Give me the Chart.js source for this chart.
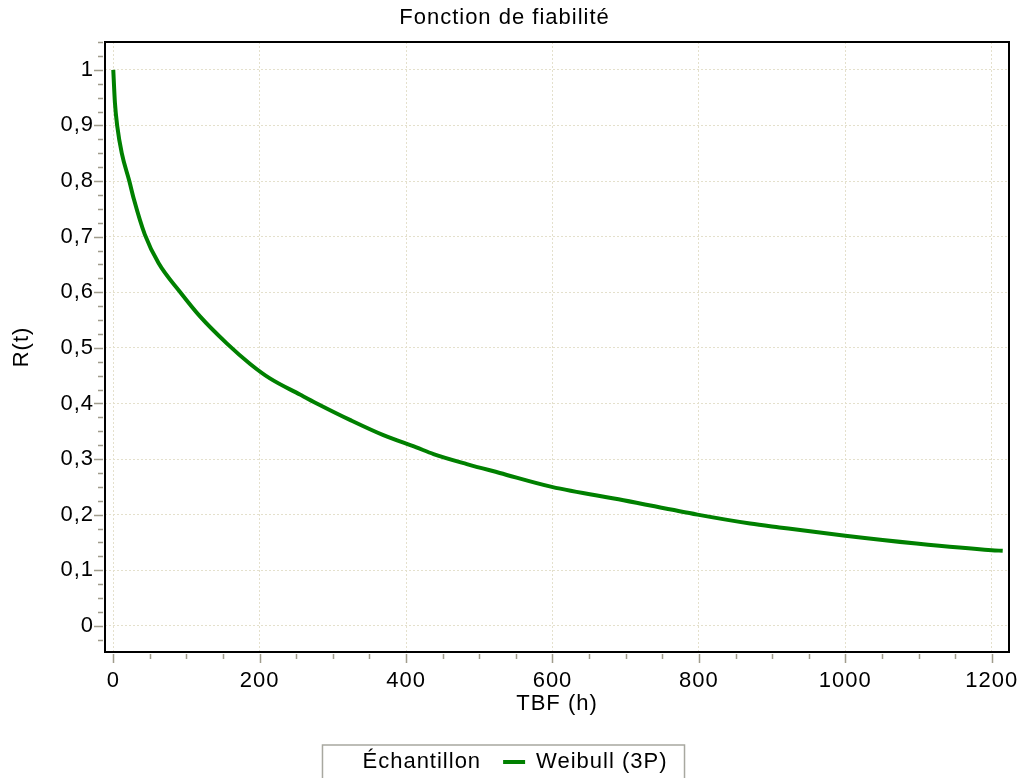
<!DOCTYPE html>
<html>
<head>
<meta charset="utf-8">
<script src="https://cdn.jsdelivr.net/npm/chart.js@4/dist/chart.umd.min.js"></script>
<style>
    html, body { margin: 0; padding: 0; background: #fff; }
    #wrap { width: 1022px; height: 778px; }
</style>
</head>
<body>
<div id="wrap"><canvas id="reliabilityChart" width="1022" height="778"></canvas></div>
<script>
        // TBF (h) and R(t)
        const tbfHours = [0, 2.3, 5.5, 11.6, 21.9, 28, 43, 62, 91.5, 118.8, 155, 187, 214, 255, 278, 324, 369, 414, 437.5, 483, 528, 599, 697, 798, 870, 910, 1000, 1097, 1200, 1215];
        const reliability = [1.0, 0.94, 0.898, 0.85, 0.80, 0.768, 0.704, 0.652, 0.60, 0.556, 0.508, 0.471, 0.445, 0.416, 0.400, 0.370, 0.343, 0.321, 0.309, 0.291, 0.275, 0.250, 0.226, 0.200, 0.184, 0.177, 0.162, 0.148, 0.136, 0.135];

        const xTicks = [0, 200, 400, 600, 800, 1000, 1200];
        const yTicks = [0, 0.1, 0.2, 0.3, 0.4, 0.5, 0.6, 0.7, 0.8, 0.9, 1];
        const yTickLabels = ['0', '0,1', '0,2', '0,3', '0,4', '0,5', '0,6', '0,7', '0,8', '0,9', '1'];
        const xMinorStep = 50;
        const yMinorStep = 0.025;

        const chartTitle = 'Fonction de fiabilité';
        const xTitle = 'TBF (h)';
        const yTitle = 'R(t)';
        const seriesNames = ['Échantillon', 'Weibull (3P)'];

        Chart.defaults.font.family = "'Liberation Sans', Arial, sans-serif";
        Chart.defaults.font.size = 22;
        Chart.defaults.color = '#000';

        // letter spacing is lost when the canvas is resized, so set it again each pass
        const spacingPlugin = {
            id: 'spacing',
            beforeUpdate(chart) { chart.ctx.letterSpacing = '1px'; },
            beforeLayout(chart) { chart.ctx.letterSpacing = '1px'; },
            beforeDraw(chart) { chart.ctx.letterSpacing = '1px'; }
        };

        const framePlugin = {
            id: 'frame',
            afterLayout(chart) {
                // nudge legend to where it sits in the original
                const lg = chart.legend;
                lg.left -= 6; lg.right -= 6;
                lg.top += 5; lg.bottom += 5;
            },
            afterDraw(chart) {
                const ctx = chart.ctx;
                const area = chart.chartArea;
                const xs = chart.scales.x;
                const ys = chart.scales.y;
                ctx.save();
                ctx.strokeStyle = '#a09c8c';
                ctx.lineWidth = 1.5;
                ctx.beginPath();
                for (let v = 0; v <= xs.max; v += xMinorStep) {
                    const px = Math.round(xs.getPixelForValue(v)) + 0.5;
                    const len = (v % 200 === 0) ? 9 : 5;
                    ctx.moveTo(px, area.bottom + 2);
                    ctx.lineTo(px, area.bottom + 2 + len);
                }
                for (let i = -1; i * yMinorStep <= ys.max; i++) {
                    const v = i * yMinorStep;
                    const py = Math.round(ys.getPixelForValue(v)) + 0.5;
                    const len = (i % 4 === 0) ? 9 : 5;
                    ctx.moveTo(area.left - 2, py);
                    ctx.lineTo(area.left - 2 - len, py);
                }
                ctx.stroke();

                ctx.strokeStyle = '#000';
                ctx.lineWidth = 2;
                ctx.strokeRect(area.left, area.top, area.right - area.left, area.bottom - area.top);

                // legend frame
                const boxes = chart.legend.legendHitBoxes;
                if (boxes && boxes.length) {
                    const first = boxes[0];
                    const last = boxes[boxes.length - 1];
                    const l = first.left - 7;
                    const r = last.left + last.width + 17;
                    ctx.strokeStyle = '#a8a8a0';
                    ctx.lineWidth = 1.5;
                    ctx.strokeRect(l, first.top - 6, r - l, 60);
                }
                ctx.restore();
            }
        };

        const ctx = document.getElementById('reliabilityChart').getContext('2d');
        const reliabilityChart = new Chart(ctx, {
            type: 'line',
            data: {
                datasets: [{
                    label: seriesNames[0],
                    data: [],
                    borderColor: 'transparent',
                    backgroundColor: 'transparent',
                    pointStyle: 'line'
                }, {
                    label: seriesNames[1],
                    data: tbfHours.map((t, i) => ({ x: t, y: reliability[i] })),
                    borderColor: '#008000',
                    backgroundColor: '#008000',
                    borderWidth: 4,
                    pointRadius: 0,
                    pointStyle: 'line',
                    cubicInterpolationMode: 'monotone',
                    fill: false
                }]
            },
            options: {
                responsive: false,
                animation: false,
                layout: { padding: { left: 0, right: 13, top: 0, bottom: 0 } },
                plugins: {
                    title: {
                        display: true,
                        text: chartTitle,
                        color: '#000',
                        font: { size: 22, weight: 'normal' },
                        padding: { top: 5, bottom: 10.6 }
                    },
                    legend: {
                        position: 'bottom',
                        labels: {
                            usePointStyle: true,
                            pointStyleWidth: 22,
                            padding: 22,
                            color: '#000',
                            font: { size: 22 }
                        }
                    },
                    tooltip: { enabled: false }
                },
                scales: {
                    x: {
                        type: 'linear',
                        min: -11.3,
                        max: 1223.6,
                        afterBuildTicks: (scale) => { scale.ticks = xTicks.map(v => ({ value: v })); },
                        afterFit: (scale) => { scale.height = 72; },
                        ticks: {
                            padding: 0,
                            maxRotation: 0,
                            callback: (value) => String(value)
                        },
                        grid: {
                            color: '#e4e0cc',
                            lineWidth: 1,
                            drawTicks: true,
                            tickLength: 16,
                            tickColor: 'transparent'
                        },
                        border: { display: false, dash: [2, 2] },
                        title: {
                            display: true,
                            text: xTitle,
                            color: '#000',
                            font: { size: 22 },
                            padding: { top: 7, bottom: 7 }
                        }
                    },
                    y: {
                        type: 'linear',
                        min: -0.047,
                        max: 1.05,
                        afterBuildTicks: (scale) => { scale.ticks = yTicks.map(v => ({ value: v })); },
                        afterFit: (scale) => { scale.width = 105; },
                        ticks: {
                            padding: 0,
                            callback: (value) => {
                                const idx = yTicks.findIndex(v => Math.abs(v - value) < 1e-9);
                                return idx >= 0 ? yTickLabels[idx] : '';
                            }
                        },
                        grid: {
                            color: '#e4e0cc',
                            lineWidth: 1,
                            drawTicks: true,
                            tickLength: 11,
                            tickColor: 'transparent'
                        },
                        border: { display: false, dash: [2, 2] },
                        title: {
                            display: true,
                            text: yTitle,
                            color: '#000',
                            font: { size: 22 },
                            padding: { top: 9, bottom: 9 }
                        }
                    }
                }
            },
            plugins: [spacingPlugin, framePlugin]
        });
</script>
</body>
</html>
